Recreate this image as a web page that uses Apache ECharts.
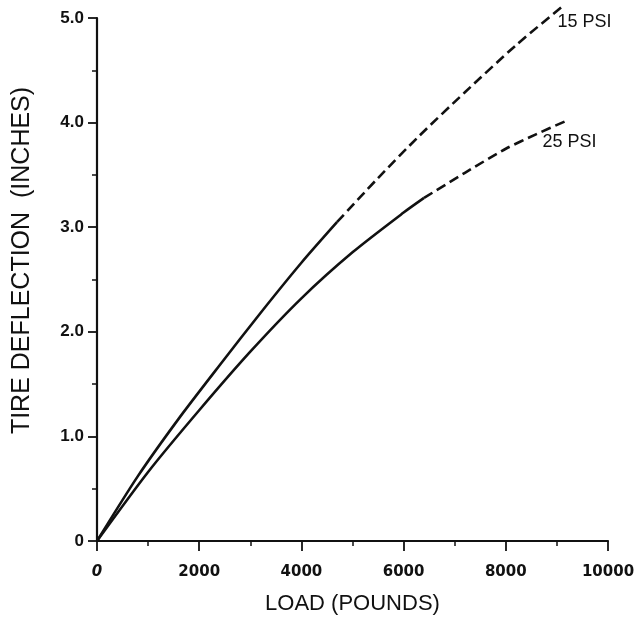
<!DOCTYPE html>
<html>
<head>
<meta charset="utf-8">
<script src="https://cdn.jsdelivr.net/npm/echarts@6/dist/echarts.min.js"></script>
<style>
  html, body { margin: 0; padding: 0; background: #fff; }
  #chart { width: 642px; height: 620px; }
</style>
</head>
<body>
<div id="chart"></div>
<script>
// load in pounds, deflection in inches
const psi15Solid = [[0, 0], [800, 0.62], [1600, 1.17], [2400, 1.68], [3200, 2.18], [4000, 2.66], [4700, 3.05]];
const psi15Dashed = [[4700, 3.05], [5500, 3.47], [6300, 3.87], [7200, 4.29], [8200, 4.74], [9130, 5.12]];
const psi25Solid = [[0, 0], [1000, 0.66], [2000, 1.25], [3000, 1.81], [4000, 2.32], [5000, 2.76], [6000, 3.14], [6400, 3.28]];
const psi25Dashed = [[6400, 3.28], [7200, 3.52], [8000, 3.75], [8600, 3.89], [9150, 4.01]];

const seriesNames = ['15 PSI', '25 PSI'];
const xTicks = [0, 2000, 4000, 6000, 8000, 10000];
const yTicks = [0, 1, 2, 3, 4, 5];

const ink = '#111';
const chart = echarts.init(document.getElementById('chart'));

const lineStyle = (dashed) => ({
  color: ink,
  width: 2.6,
  type: dashed ? [10, 5] : 'solid'
});

const endLabel = (text, offset) => ({
  show: true,
  formatter: text,
  color: ink,
  fontFamily: 'Liberation Sans',
  fontSize: 18,
  distance: 0,
  offset: offset
});

const curve = (name, data, dashed, label) => ({
  name: name,
  type: 'line',
  data: data,
  smooth: 0.25,
  clip: false,
  symbol: 'none',
  lineStyle: lineStyle(dashed),
  endLabel: label || { show: false }
});

chart.setOption({
  animation: false,
  backgroundColor: '#fff',
  grid: { left: 97, right: 34, top: 18, bottom: 77 },
  xAxis: {
    type: 'value',
    min: xTicks[0],
    max: xTicks[xTicks.length - 1],
    interval: 2000,
    name: 'LOAD (POUNDS)',
    nameLocation: 'middle',
    nameGap: 52,
    nameTextStyle: { color: ink, fontFamily: 'Liberation Sans', fontSize: 22 },
    axisLine: { lineStyle: { color: ink, width: 2.2 } },
    axisTick: { length: 10, lineStyle: { color: ink, width: 1.8 } },
    minorTick: { show: true, splitNumber: 2, length: 5, lineStyle: { color: ink, width: 1.5 } },
    splitLine: { show: false },
    axisLabel: {
      margin: 24,
      color: ink,
      fontFamily: 'DejaVu Sans',
      fontWeight: 'bold',
      fontSize: 15,
      formatter: v => v === 0 ? '{i|0}' : String(v),
      rich: { i: { fontStyle: 'italic', fontFamily: 'DejaVu Sans', fontWeight: 'bold', fontSize: 15, color: ink } }
    }
  },
  yAxis: {
    type: 'value',
    min: yTicks[0],
    max: yTicks[yTicks.length - 1],
    interval: 1,
    name: 'TIRE DEFLECTION  (INCHES)',
    nameLocation: 'middle',
    nameGap: 62,
    nameTextStyle: { color: ink, fontFamily: 'Liberation Sans', fontSize: 25, padding: [0, 0, 0, 38] },
    axisLine: { show: true, lineStyle: { color: ink, width: 2.2 } },
    axisTick: { show: true, length: 9, lineStyle: { color: ink, width: 1.8 } },
    minorTick: { show: true, splitNumber: 2, length: 5, lineStyle: { color: ink, width: 1.5 } },
    splitLine: { show: false },
    axisLabel: {
      margin: 13,
      color: ink,
      fontFamily: 'Liberation Sans',
      fontWeight: 'bold',
      fontSize: 17,
      formatter: v => v === 0 ? '0' : v.toFixed(1)
    }
  },
  series: [
    curve(seriesNames[0], psi15Solid, false),
    curve(seriesNames[0], psi15Dashed, true, endLabel('15 PSI', [-6, 17])),
    curve(seriesNames[1], psi25Solid, false),
    curve(seriesNames[1], psi25Dashed, true, endLabel('25 PSI', [-22, 20]))
  ]
});
</script>
</body>
</html>
